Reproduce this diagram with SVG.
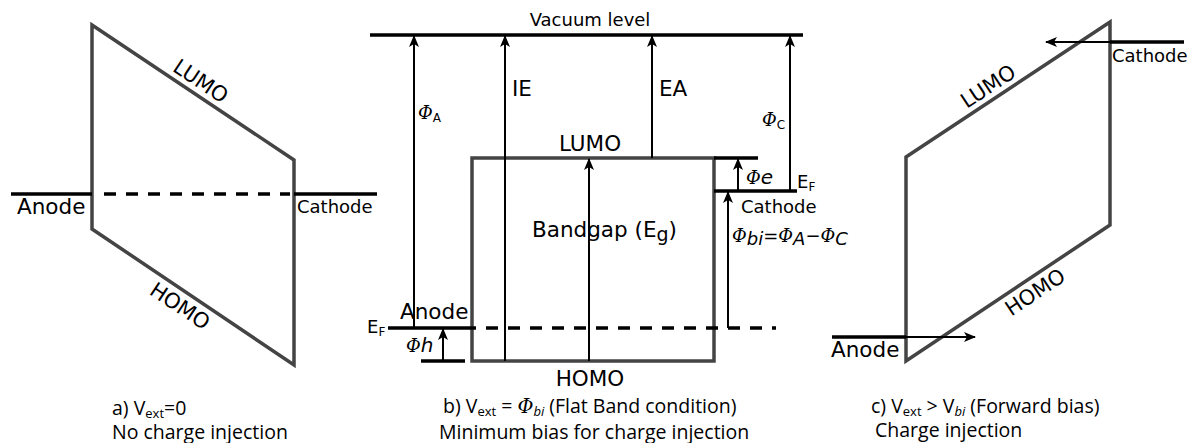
<svg xmlns="http://www.w3.org/2000/svg" width="1188" height="443" viewBox="0 0 1188 443">
<style>
.band{fill:none;stroke:#444;stroke-width:3.5}
.lvl{stroke:#000;stroke-width:3.5}
.dash{stroke:#000;stroke-width:3.5;stroke-dasharray:12,10}
.arr{stroke:#000;stroke-width:2;fill:none;marker-end:url(#ah)}
.t{font-family:"DejaVu Sans",sans-serif;font-size:18px;fill:#000}
.big{font-size:21.5px}
.rot{font-size:21px}
.s{font-family:"DejaVu Sans",sans-serif;font-size:12px;fill:#000}
.g{font-family:"DejaVu Serif",serif;font-style:italic;font-size:18px;fill:#000}
.cap{font-family:"Open Sans",sans-serif;font-size:19.5px;fill:#000}
</style>
<defs>
<marker id="ah" viewBox="0 0 12 10" refX="11" refY="5" markerWidth="12" markerHeight="10" markerUnits="userSpaceOnUse" orient="auto">
<path d="M0,0 L12,5 L0,10 L3,5 z" fill="#000"/>
</marker>
</defs>
<rect width="1188" height="443" fill="#fff"/>

<g id="panel-a">
<polygon class="band" points="92,25 294,160 294,365 92,229"/>
<line class="lvl" x1="11" y1="194" x2="92" y2="194"/>
<line class="dash" x1="104" y1="194" x2="290" y2="194"/>
<line class="lvl" x1="294" y1="194" x2="377" y2="194"/>
<text class="t big" x="17" y="214">Anode</text>
<text class="t" x="297" y="213">Cathode</text>
<text class="t rot" text-anchor="middle" transform="translate(193.2,92.6) rotate(33.75)" y="-6.5">LUMO</text>
<text class="t rot" text-anchor="middle" transform="translate(188.2,293.7) rotate(33.75)" y="22">HOMO</text>
<text class="cap" x="112" y="415">a) V<tspan font-size="13" dy="3">ext</tspan><tspan dy="-3">=0</tspan></text>
<text class="cap" x="112" y="439">No charge injection</text>
</g>

<g id="panel-b">
<line class="lvl" x1="370" y1="35" x2="803" y2="35" stroke-width="2.5"/>
<text class="t" x="590" y="26" text-anchor="middle">Vacuum level</text>
<rect class="band" x="472" y="158" width="242" height="203" stroke="#555"/>
<text class="t big" x="590" y="151" text-anchor="middle">LUMO</text>
<text class="t big" x="590" y="386" text-anchor="middle">HOMO</text>
<text class="t big" x="532" y="237">Bandgap (E<tspan font-size="19" dy="4">g</tspan><tspan dy="-4">)</tspan></text>
<line class="lvl" x1="714" y1="158" x2="758" y2="158"/>
<line class="lvl" x1="714" y1="191" x2="797" y2="191"/>
<line class="lvl" x1="388" y1="328" x2="476" y2="328"/>
<line class="dash" x1="486" y1="328" x2="776" y2="328"/>
<line class="lvl" x1="421" y1="361" x2="465" y2="361"/>
<text class="t big" x="400" y="319">Anode</text>
<text class="t" x="741" y="213">Cathode</text>
<text class="t" x="367" y="333">E<tspan class="s" dy="3">F</tspan></text>
<text class="t" x="797" y="188">E<tspan class="s" dy="3">F</tspan></text>
<text class="g" x="418" y="119">Φ<tspan font-size="12" font-family="DejaVu Sans" font-style="normal" dy="3">A</tspan></text>
<text class="t big" x="512" y="96">IE</text>
<text class="t big" x="659" y="96">EA</text>
<text class="g" x="762" y="126">Φ<tspan font-size="12" font-family="DejaVu Sans" font-style="normal" dy="3">C</tspan></text>
<text class="g" x="746" y="184">Φ<tspan font-family="DejaVu Sans" font-size="20">e</tspan></text>
<text class="g" x="406" y="352">Φ<tspan font-family="DejaVu Sans" font-size="20">h</tspan></text>
<text class="g" x="732" y="242">Φ<tspan font-family="DejaVu Sans" dy="3">bi</tspan><tspan font-family="DejaVu Sans" font-style="normal" dy="-3">=</tspan>Φ<tspan font-family="DejaVu Sans" dy="3">A</tspan><tspan font-family="DejaVu Sans" font-style="normal" dy="-3">−</tspan>Φ<tspan font-family="DejaVu Sans" dy="3">C</tspan></text>
<text class="cap" x="443" y="413">b) V<tspan font-size="13" dy="3">ext</tspan><tspan dy="-3"> = </tspan><tspan font-family="DejaVu Serif" font-style="italic">Φ</tspan><tspan font-size="13" font-style="italic" dy="3">bi</tspan><tspan dy="-3"> (Flat Band condition)</tspan></text>
<text class="cap" x="439" y="439">Minimum bias for charge injection</text>
</g>

<g id="panel-c">
<polygon class="band" points="1110,22 1110,225 906,361 906,157"/>
<line class="lvl" x1="1184" y1="42" x2="1110" y2="42"/>
<line class="lvl" x1="832" y1="337" x2="906" y2="337"/>
<text class="t" x="1112" y="62">Cathode</text>
<text class="t big" x="831" y="357">Anode</text>
<text class="t rot" text-anchor="middle" transform="translate(995.7,97.6) rotate(-33.5)" y="-6.4">LUMO</text>
<text class="t rot" text-anchor="middle" transform="translate(1027.2,280.2) rotate(-33.5)" y="21.6">HOMO</text>
<text class="cap" x="871" y="413">c) V<tspan font-size="13" dy="3">ext</tspan><tspan dy="-3"> &gt; V</tspan><tspan font-size="13" font-style="italic" dy="3">bi</tspan><tspan dy="-3"> (Forward bias)</tspan></text>
<text class="cap" x="875" y="437">Charge injection</text>
</g>

<g id="connectors">
<line class="arr" x1="414" y1="328" x2="414" y2="36"/>
<line class="arr" x1="505" y1="361" x2="505" y2="36"/>
<line class="arr" x1="652" y1="158" x2="652" y2="36"/>
<line class="arr" x1="790" y1="191" x2="790" y2="36"/>
<line class="arr" x1="589" y1="361" x2="589" y2="159"/>
<line class="arr" x1="738" y1="191" x2="738" y2="159"/>
<line class="arr" x1="728" y1="328" x2="728" y2="192"/>
<line class="arr" x1="443" y1="361" x2="443" y2="329"/>
<line class="arr" x1="1110" y1="42" x2="1046" y2="42"/>
<line class="arr" x1="906" y1="337" x2="975" y2="337"/>
</g>
</svg>
